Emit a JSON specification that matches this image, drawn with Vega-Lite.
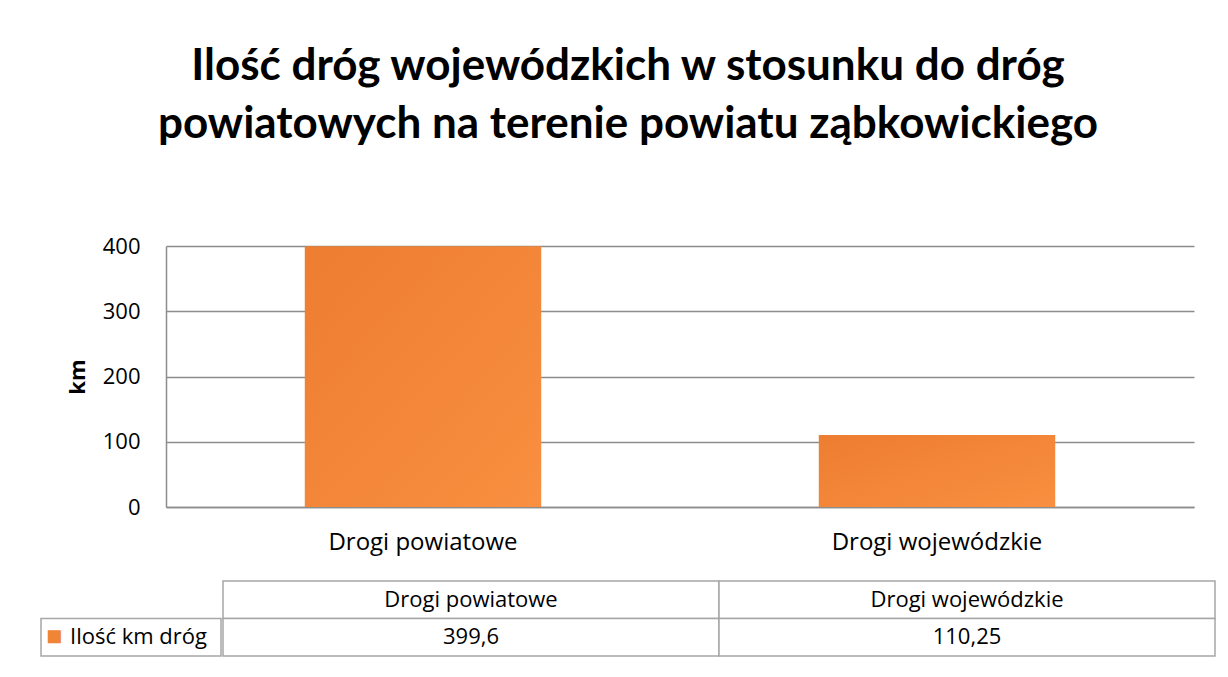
{
  "$schema": "https://vega.github.io/schema/vega-lite/v6.json",
  "padding": {"left": 40, "top": 45, "right": 16, "bottom": 10},
  "background": "white",
  "config": {
    "font": "Open Sans",
    "view": {"stroke": null},
    "locale": {"number": {"decimal": ",", "thousands": " ", "grouping": [3], "currency": ["", " zł"]}}
  },
  "title": {
    "text": ["Ilość dróg wojewódzkich w stosunku do dróg", "powiatowych na terenie powiatu ząbkowickiego"],
    "font": "Lato",
    "fontSize": 44,
    "fontWeight": "bold",
    "lineHeight": 58,
    "anchor": "middle",
    "color": "black",
    "offset": 88
  },
  "data": {
    "values": [
      {"kategoria": "Drogi powiatowe", "km": 399.6},
      {"kategoria": "Drogi wojewódzkie", "km": 110.25}
    ]
  },
  "spacing": 26,
  "vconcat": [
    {
      "spacing": 0,
      "hconcat": [
        {
          "width": 25,
          "height": 261,
          "mark": {"type": "text", "text": ""},
          "encoding": {}
        },
        {
          "width": 1028,
          "height": 261,
          "mark": {
            "type": "bar",
            "color": {
              "gradient": "linear", "x1": 0, "y1": 0, "x2": 1, "y2": 1,
              "stops": [{"offset": 0, "color": "#ED7D31"}, {"offset": 1, "color": "#F98F40"}]
            }
          },
          "encoding": {
            "x": {
              "field": "kategoria", "type": "nominal", "sort": null,
              "scale": {"paddingInner": 0.54, "paddingOuter": 0.27},
              "axis": {"title": null, "labelAngle": 0, "labelFontSize": 24, "labelLimit": 0, "labelColor": "black", "labelPadding": 23, "ticks": false, "domainColor": "#8c8c8c", "domainWidth": 1.5}
            },
            "y": {
              "field": "km", "type": "quantitative",
              "scale": {"domain": [0, 400]},
              "axis": {"title": "km", "titleFontSize": 22, "titleFontWeight": "bold", "titleColor": "black", "titlePadding": 13, "values": [0, 100, 200, 300, 400], "format": "d", "labelFontSize": 22, "labelColor": "black", "labelPadding": 26, "ticks": false, "domainColor": "#8c8c8c", "domainWidth": 1.5, "grid": true, "gridColor": "#8c8c8c", "gridWidth": 1.5}
            }
          }
        }
      ]
    },
    {
      "spacing": 0,
      "hconcat": [
        {
          "width": 180,
          "height": 75,
          "data": {"values": [{"seria": "Ilość km dróg"}]},
          "layer": [
            {
              "mark": {"type": "rect", "fill": "white", "stroke": "#a6a6a6", "strokeWidth": 1.5},
              "encoding": {"y": {"datum": "v", "type": "nominal", "scale": {"domain": ["h", "v"], "paddingInner": 0, "paddingOuter": 0}, "axis": null}}
            },
            {
              "mark": {"type": "text", "text": "■", "color": "#F08535", "fontSize": 27, "align": "left", "dx": -85},
              "encoding": {"y": {"datum": "v", "type": "nominal"}}
            },
            {
              "mark": {"type": "text", "fontSize": 22, "color": "black", "align": "left", "dx": -61},
              "encoding": {"y": {"datum": "v", "type": "nominal"}, "text": {"field": "seria"}}
            }
          ]
        },
        {
          "width": 992,
          "height": 75,
          "encoding": {
            "x": {"field": "kategoria", "type": "nominal", "sort": null, "scale": {"paddingInner": 0, "paddingOuter": 0}, "axis": null}
          },
          "layer": [
            {
              "mark": {"type": "rect", "fill": "white", "stroke": "#a6a6a6", "strokeWidth": 1.5},
              "encoding": {"y": {"datum": "h", "type": "nominal", "scale": {"domain": ["h", "v"], "paddingInner": 0, "paddingOuter": 0}, "axis": null}}
            },
            {
              "mark": {"type": "rect", "fill": "white", "stroke": "#a6a6a6", "strokeWidth": 1.5},
              "encoding": {"y": {"datum": "v", "type": "nominal"}}
            },
            {
              "mark": {"type": "text", "fontSize": 22, "color": "black"},
              "encoding": {"y": {"datum": "h", "type": "nominal"}, "text": {"field": "kategoria"}}
            },
            {
              "mark": {"type": "text", "fontSize": 22, "color": "black"},
              "encoding": {"y": {"datum": "v", "type": "nominal"}, "text": {"field": "km", "type": "quantitative", "format": ".2~f"}}
            }
          ]
        }
      ]
    }
  ]
}
